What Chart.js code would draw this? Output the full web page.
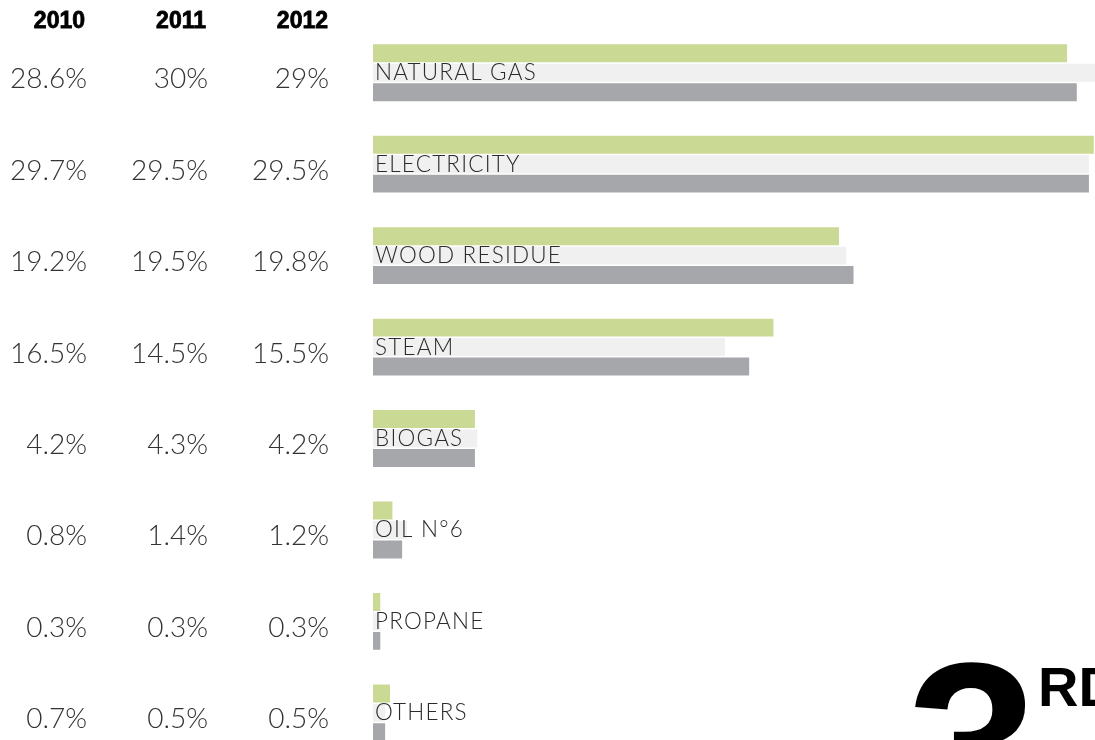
<!DOCTYPE html>
<html>
<head>
<meta charset="utf-8">
<script src="https://cdn.jsdelivr.net/npm/chart.js@4"></script>
<style>
html,body{margin:0;padding:0;overflow:hidden;background:#fff;}
</style>
</head>
<body>
<canvas id="myChart" width="1095" height="770"></canvas>
<script>
var categories = ["NATURAL GAS","ELECTRICITY","WOOD RESIDUE","STEAM","BIOGAS","OIL N\u00B06","PROPANE","OTHERS"];
var years = ["2010","2011","2012"];
var values2010 = [28.6, 29.7, 19.2, 16.5, 4.2, 0.8, 0.3, 0.7];
var values2011 = [30, 29.5, 19.5, 14.5, 4.3, 1.4, 0.3, 0.5];
var values2012 = [29, 29.5, 19.8, 15.5, 4.2, 1.2, 0.3, 0.5];
var colors = ["#cad994","#f0f0f0","#a6a7ab"];

// columns of percentages on the left (right edge of each column)
var colRight = [87, 208, 329];

var tablePlugin = {
    id: "tablePlugin",
    afterDatasetsDraw: function(chart){
        var ctx = chart.ctx;
        var yScale = chart.scales.y;
        var area = chart.chartArea;
        var all = [values2010, values2011, values2012];
        ctx.save();

        // year headers
        ctx.fillStyle = "#000";
        ctx.strokeStyle = "#000";
        ctx.lineWidth = 0.8;
        ctx.font = "bold 23px 'Liberation Sans', Arial, sans-serif";
        ctx.textAlign = "right";
        ctx.textBaseline = "alphabetic";
        for(var j=0;j<3;j++){
            var hx = [85, 206, 328][j];
            ctx.fillText(years[j], hx, 28);
            ctx.strokeText(years[j], hx, 28);
        }

        // percentages
        ctx.fillStyle = "#333";
        ctx.font = "300 28px Lato, sans-serif";
        for(var i=0;i<categories.length;i++){
            var y = yScale.getPixelForValue(i);
            for(var j=0;j<3;j++){
                ctx.fillText(all[j][i] + "%", colRight[j], y + 15.5);
            }
        }

        // category label on the middle bar
        var meta = chart.getDatasetMeta(1);
        ctx.textAlign = "left";
        ctx.fillStyle = "#2b2b2b";
        ctx.font = "300 22.5px Lato, sans-serif";
        ctx.letterSpacing = "1.2px";
        for(var i=0;i<categories.length;i++){
            var bar = meta.data[i];
            ctx.fillText(categories[i], area.left + 2, bar.y + bar.height/2 - 1.5);
        }
        ctx.letterSpacing = "0px";

        // big "3RD" in the corner
        ctx.fillStyle = "#000";
        ctx.font = "bold 235px 'Liberation Sans', Arial, sans-serif";
        ctx.fillText("3", 907, 827);
        ctx.font = "bold 56px 'Liberation Sans', Arial, sans-serif";
        ctx.fillText("RD", 1038, 706);
        ctx.restore();
    }
};

var ctx = document.getElementById("myChart").getContext("2d");
var myChart = new Chart(ctx, {
    type: "bar",
    data: {
        labels: categories,
        datasets: [
            {label: years[0], data: values2010, backgroundColor: colors[0]},
            {label: years[1], data: values2011, backgroundColor: colors[1]},
            {label: years[2], data: values2012, backgroundColor: colors[2]}
        ]
    },
    options: {
        indexAxis: "y",
        responsive: false,
        animation: false,
        categoryPercentage: 0.638,
        barPercentage: 0.923,
        layout: {
            padding: {left: 373, right: 0, top: 27, bottom: 11.4}
        },
        scales: {
            x: {display: false, min: 0, max: 29.75},
            y: {display: false, offset: true}
        },
        plugins: {
            legend: {display: false},
            tooltip: {enabled: false},
            title: {display: false}
        }
    },
    plugins: [tablePlugin]
});
</script>
</body>
</html>
